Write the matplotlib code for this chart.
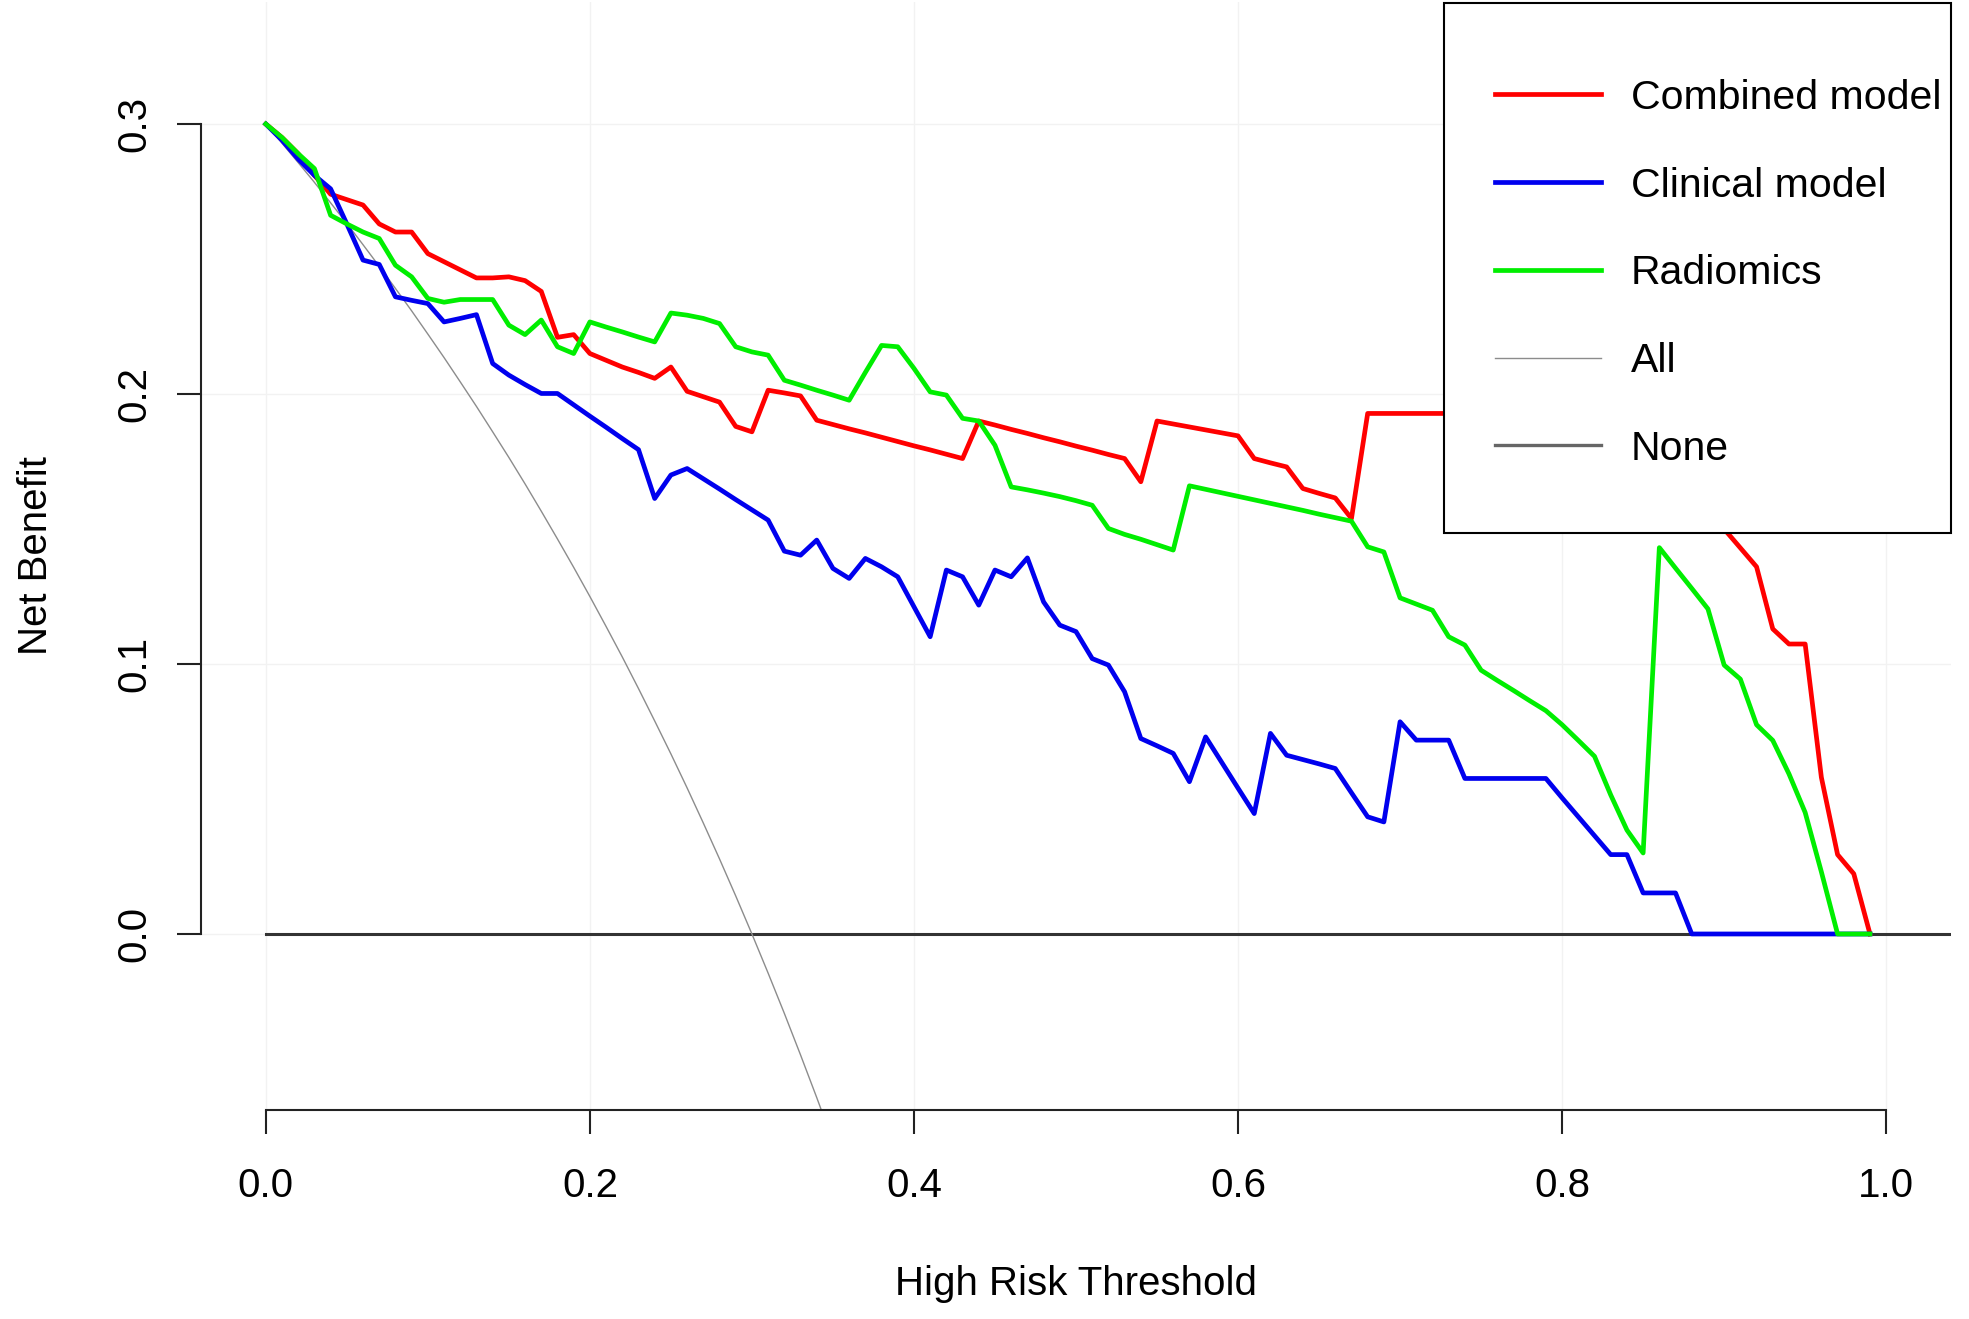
import numpy as np
import matplotlib
matplotlib.use("Agg")
import matplotlib.pyplot as plt
from matplotlib.lines import Line2D
from matplotlib.path import Path

plt.rcParams['font.family'] = ['Liberation Sans', 'DejaVu Sans']

# thresholds 0.00 .. 0.99
umbral = np.round(np.arange(0, 100) * 0.01, 2)

combinado = [0.300, 0.295, 0.289, 0.281, 0.274, 0.272, 0.270, 0.263, 0.260, 0.260,
             0.252, 0.249, 0.246, 0.243, 0.243, 0.2434, 0.242, 0.238, 0.221, 0.222,
             0.215, 0.2125, 0.210, 0.208, 0.2058, 0.210, 0.201, 0.199, 0.197, 0.188,
             0.186, 0.2014, 0.2004, 0.1993, 0.1903, 0.1887, 0.1871, 0.1856, 0.1840, 0.1824,
             0.1808, 0.1793, 0.1777, 0.1761, 0.190, 0.1885, 0.1869, 0.1854, 0.1838, 0.1823,
             0.1807, 0.1792, 0.1776, 0.1761, 0.1675, 0.190, 0.1889, 0.1878, 0.1867, 0.1856,
             0.1845, 0.1761, 0.1745, 0.173, 0.165, 0.1632, 0.1615, 0.1539, 0.1928, 0.1928,
             0.1928, 0.1928, 0.1928, 0.1928, 0.1928, 0.1928, 0.191, 0.189, 0.187, 0.185,
             0.183, 0.181, 0.179, 0.177, 0.175, 0.173, 0.171, 0.168, 0.165, 0.160,
             0.150, 0.143, 0.136, 0.113, 0.1074, 0.1074, 0.058, 0.0294, 0.0223, 0.0]

clinico = [0.300, 0.294, 0.287, 0.281, 0.276, 0.263, 0.2496, 0.248, 0.236, 0.2347,
           0.2335, 0.2267, 0.228, 0.2294, 0.2113, 0.207, 0.2035, 0.2002, 0.2002, 0.196,
           0.1918, 0.1877, 0.1835, 0.1794, 0.1613, 0.170, 0.1724, 0.1686, 0.1648, 0.1609,
           0.1571, 0.1533, 0.1418, 0.1403, 0.1459, 0.1354, 0.1317, 0.1391, 0.136, 0.1323,
           0.1212, 0.1101, 0.1348, 0.1323, 0.1218, 0.1348, 0.1323, 0.1393, 0.1230, 0.1144,
           0.112, 0.102, 0.0996, 0.0897, 0.0724, 0.0697, 0.0669, 0.0564, 0.073, 0.0635,
           0.054, 0.0446, 0.0743, 0.0662, 0.0646, 0.063, 0.0613, 0.0523, 0.0434, 0.0415,
           0.0786, 0.0718, 0.0718, 0.0718, 0.0576, 0.0576, 0.0576, 0.0576, 0.0576, 0.0576,
           0.0504, 0.0434, 0.0364, 0.0294, 0.0294, 0.0152, 0.0152, 0.0152, 0.0, 0.0,
           0.0, 0.0, 0.0, 0.0, 0.0, 0.0, 0.0, 0.0, 0.0, 0.0]

radiomica = [0.300, 0.295, 0.289, 0.2835, 0.2662, 0.263, 0.260, 0.2576, 0.2477, 0.2434,
             0.2354, 0.234, 0.235, 0.235, 0.235, 0.2255, 0.222, 0.2274, 0.2175, 0.215,
             0.2267, 0.2248, 0.223, 0.2211, 0.2193, 0.230, 0.2292, 0.228, 0.2261, 0.2175,
             0.2156, 0.2144, 0.2051, 0.2033, 0.2014, 0.1996, 0.1977, 0.208, 0.218, 0.2175,
             0.2095, 0.2008, 0.1996, 0.191, 0.190, 0.181, 0.1656, 0.1645, 0.1633, 0.1620,
             0.1605, 0.1588, 0.1502, 0.148, 0.1462, 0.1442, 0.1422, 0.166, 0.1647, 0.1634,
             0.1621, 0.1608, 0.1595, 0.1582, 0.1569, 0.1555, 0.1542, 0.1529, 0.1434, 0.1415,
             0.1245, 0.1222, 0.1199, 0.1101, 0.107, 0.0977, 0.0939, 0.0902, 0.0864, 0.0827,
             0.0775, 0.0717, 0.0658, 0.0515, 0.0385, 0.030, 0.1431, 0.1355, 0.128, 0.1204,
             0.0996, 0.0944, 0.0775, 0.0717, 0.0593, 0.045, 0.023, 0.0, 0.0, 0.0]

# treat-all curve (clipped by the axes)
todos_x = umbral[:36]
todos = [0.300, 0.2929, 0.2857, 0.2784, 0.2708, 0.2632, 0.2553, 0.2473, 0.2391, 0.2308,
         0.2222, 0.2135, 0.2045, 0.1954, 0.1860, 0.1765, 0.1667, 0.1566, 0.1463, 0.1358,
         0.1250, 0.1139, 0.1026, 0.0909, 0.0789, 0.0667, 0.0541, 0.0411, 0.0278, 0.0141,
         0.0, -0.0145, -0.0294, -0.0448, -0.0606, -0.0769]

ninguno_x = [0.0, 1.1]
ninguno = [0.0, 0.0]

x_ticks = [0.0, 0.2, 0.4, 0.6, 0.8, 1.0]
y_ticks = [0.0, 0.1, 0.2, 0.3]


def caja_leyenda(x0, y0, width, height, mutation_size):
    # marco con margenes distintos por lado (como legend() de R)
    izq = 1.23 * mutation_size
    der = 0.25 * mutation_size
    arr = 1.84 * mutation_size
    aba = 1.60 * mutation_size
    return Path([(x0 - izq, y0 - aba), (x0 + width + der, y0 - aba),
                 (x0 + width + der, y0 + height + arr), (x0 - izq, y0 + height + arr),
                 (x0 - izq, y0 - aba)], closed=True)


fig = plt.figure(figsize=(19.69, 13.19), dpi=100)
ax = fig.add_axes([0.10208, 0.15845, 0.99086 - 0.10208, 0.99848 - 0.15845])

ax.plot(ninguno_x, ninguno, color="#333333", lw=2.2, zorder=2)
ax.plot(todos_x, todos, color="#8c8c8c", lw=1.0, zorder=2)
ax.plot(umbral, combinado, color="#ff0000", lw=3.4, zorder=3)
ax.plot(umbral, clinico, color="#0000ee", lw=3.4, zorder=3)
ax.plot(umbral, radiomica, color="#00ee00", lw=3.4, zorder=3)

ax.set_xlim(-0.04, 1.04)
ax.set_ylim(-0.0652, 0.3452)
ax.set_xticks(x_ticks)
ax.set_yticks(y_ticks)
ax.set_xticklabels([f"{v:.1f}" for v in x_ticks])
ax.set_yticklabels([f"{v:.1f}" for v in y_ticks], rotation=90, va="center")

ax.grid(True, color="#f2f2f2", lw=1.0, zorder=0)
ax.set_axisbelow(True)

for lado in ["top", "right"]:
    ax.spines[lado].set_visible(False)
ax.spines["left"].set_bounds(0, 0.3)
ax.spines["bottom"].set_bounds(0, 1.0)
for lado in ["left", "bottom"]:
    ax.spines[lado].set_linewidth(1.5)
    ax.spines[lado].set_color("#222222")

ax.tick_params(axis="x", direction="out", length=17, width=1.5, pad=24,
               labelsize=29, color="#222222")
ax.tick_params(axis="y", direction="out", length=17, width=1.5, pad=17,
               labelsize=29, color="#222222")

ax.set_xlabel("High Risk Threshold", fontsize=29, labelpad=43)
ax.set_ylabel("Net Benefit", fontsize=29, labelpad=44)

manejadores = [
    Line2D([], [], color="#ff0000", lw=3.4),
    Line2D([], [], color="#0000ee", lw=3.4),
    Line2D([], [], color="#00ee00", lw=3.4),
    Line2D([], [], color="#8c8c8c", lw=1.0),
    Line2D([], [], color="#666666", lw=2.4),
]
etiquetas = ["Combined model", "Clinical model", "Radiomics", "All", "None"]
leyenda = ax.legend(manejadores, etiquetas, loc="upper right", bbox_to_anchor=(0.9943, 0.9307),
                    borderaxespad=0, fontsize=29.5, handlelength=2.61, handletextpad=0.71,
                    labelspacing=1.214, borderpad=0,
                    fancybox=False, framealpha=1, edgecolor="black")
marco = leyenda.get_frame()
marco.set_boxstyle(caja_leyenda)
marco.set_linewidth(1.5)
leyenda.set_zorder(5)

fig.savefig("out.png", dpi=100)
